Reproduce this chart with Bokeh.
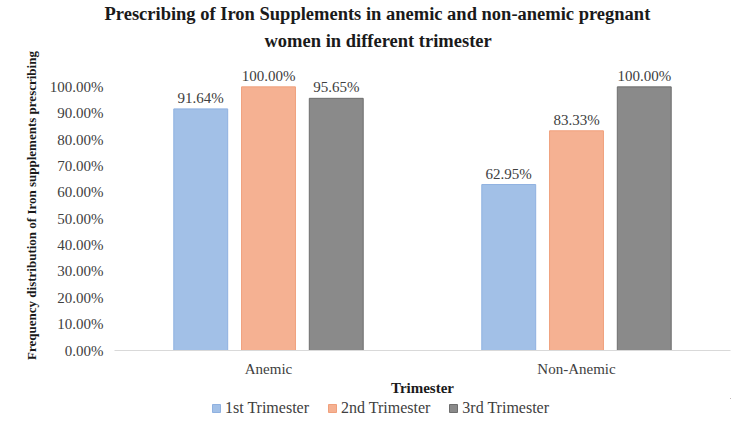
from bokeh.plotting import figure
from bokeh.models import (ColumnDataSource, FactorRange, NumeralTickFormatter, FixedTicker,
                          LabelSet, Legend, LegendItem, Title)
from bokeh.layouts import column
from bokeh.transform import dodge
from bokeh.embed import file_html
from bokeh.resources import INLINE

groups = ["Anemic", "Non-Anemic"]
series_names = ["1st Trimester", "2nd Trimester", "3rd Trimester"]
first = [0.9164, 0.6295]
second = [1.0, 0.8333]
third = [0.9565, 1.0]
y_ticks = [0.0, 0.1, 0.2, 0.3, 0.4, 0.5, 0.6, 0.7, 0.8, 0.9, 1.0]
title_lines = ["Prescribing of Iron Supplements in anemic and non-anemic pregnant",
               "women in different trimester"]

fills = ["#a2c0e7", "#f5b192", "#8a8a8a"]
lines = ["#8fb1e0", "#f0a07c", "#6e6e6e"]

src = ColumnDataSource(dict(
    g=groups, s1=first, s2=second, s3=third,
    l1=[f"{v*100:.2f}%" for v in first],
    l2=[f"{v*100:.2f}%" for v in second],
    l3=[f"{v*100:.2f}%" for v in third],
))

FONT = "Liberation Serif"

p = figure(width=750, height=398, x_range=FactorRange(*groups, range_padding=0),
           y_range=(0, 1.1), output_backend="svg", toolbar_location=None,
           min_border_left=114, min_border_right=20, min_border_top=6, min_border_bottom=48)

p.title.visible = False
# inner line first (closest to the plot), then the outer line, then a tiny top spacer
p.add_layout(Title(text=title_lines[1], align="left", offset=150, text_font=FONT,
                   text_font_size="18.5px", text_font_style="bold", text_color="#1a1a1a",
                   standoff=19), "above")
p.add_layout(Title(text=title_lines[0], align="left", offset=-10, text_font=FONT,
                   text_font_size="18.5px", text_font_style="bold", text_color="#1a1a1a",
                   standoff=-8), "above")
p.add_layout(Title(text=" ", align="left", text_font=FONT, text_font_size="3px", standoff=0), "above")

offs = [-0.22, 0.0, 0.22]
cols = ["s1", "s2", "s3"]
lbls = ["l1", "l2", "l3"]
for i in range(3):
    p.vbar(x=dodge("g", offs[i], range=p.x_range), top=cols[i], width=0.175, source=src,
           fill_color=fills[i], line_color=lines[i], line_width=1)
    lab = LabelSet(x=dodge("g", offs[i], range=p.x_range), y=cols[i], text=lbls[i], source=src,
                   y_offset=3, text_align="center", text_baseline="bottom",
                   text_font=FONT, text_font_size="15px", text_color="#404040")
    p.add_layout(lab)

p.xgrid.visible = False
p.ygrid.visible = False
p.outline_line_color = None

p.yaxis.ticker = FixedTicker(ticks=y_ticks)
p.yaxis.formatter = NumeralTickFormatter(format="0.00%")
p.yaxis.axis_line_color = None
p.yaxis.major_tick_line_color = None
p.yaxis.minor_tick_line_color = None
p.yaxis.major_label_text_font = FONT
p.yaxis.major_label_text_font_size = "15px"
p.yaxis.major_label_text_color = "#404040"
p.yaxis.axis_label = "Frequency distribution of Iron supplements prescribing"
p.yaxis.axis_label_text_font = FONT
p.yaxis.axis_label_text_font_size = "13px"
p.yaxis.axis_label_text_font_style = "bold"
p.yaxis.axis_label_text_color = "#1a1a1a"
p.yaxis.axis_label_standoff = 8

p.xaxis.axis_line_color = "#d9d9d9"
p.xaxis.major_tick_line_color = None
p.xaxis.minor_tick_line_color = None
p.xaxis.major_label_text_font = FONT
p.xaxis.major_label_text_font_size = "15px"
p.xaxis.major_label_text_color = "#404040"
p.xaxis.major_label_standoff = 4
p.xaxis.axis_label = "Trimester"
p.xaxis.axis_label_text_font = FONT
p.xaxis.axis_label_text_font_size = "15px"
p.xaxis.axis_label_text_font_style = "bold"
p.xaxis.axis_label_text_color = "#1a1a1a"
p.xaxis.axis_label_standoff = 0

# legend strip below the chart (its bars sit outside the visible range)
lg = figure(width=750, height=24, x_range=(0, 1), y_range=(0, 1), output_backend="svg",
            toolbar_location=None, min_border=0, x_axis_type=None, y_axis_type=None)
lg.xgrid.visible = False
lg.ygrid.visible = False
lg.outline_line_color = None
lg_r = [lg.vbar(x=[5], top=[5], bottom=[4], width=0.1, fill_color=fills[i], line_color=lines[i])
        for i in range(3)]
legend = Legend(items=[LegendItem(label=series_names[i], renderers=[lg_r[i]]) for i in range(3)],
                orientation="horizontal", location=(97, 5),
                label_text_font=FONT, label_text_font_size="16px", label_text_color="#404040",
                glyph_width=10, glyph_height=10, label_standoff=4, spacing=18, label_height=16,
                padding=0, margin=0, border_line_color=None, background_fill_alpha=0)
lg.add_layout(legend, "center")

open("out.html", "w").write(file_html(column(p, lg, spacing=0), INLINE))
